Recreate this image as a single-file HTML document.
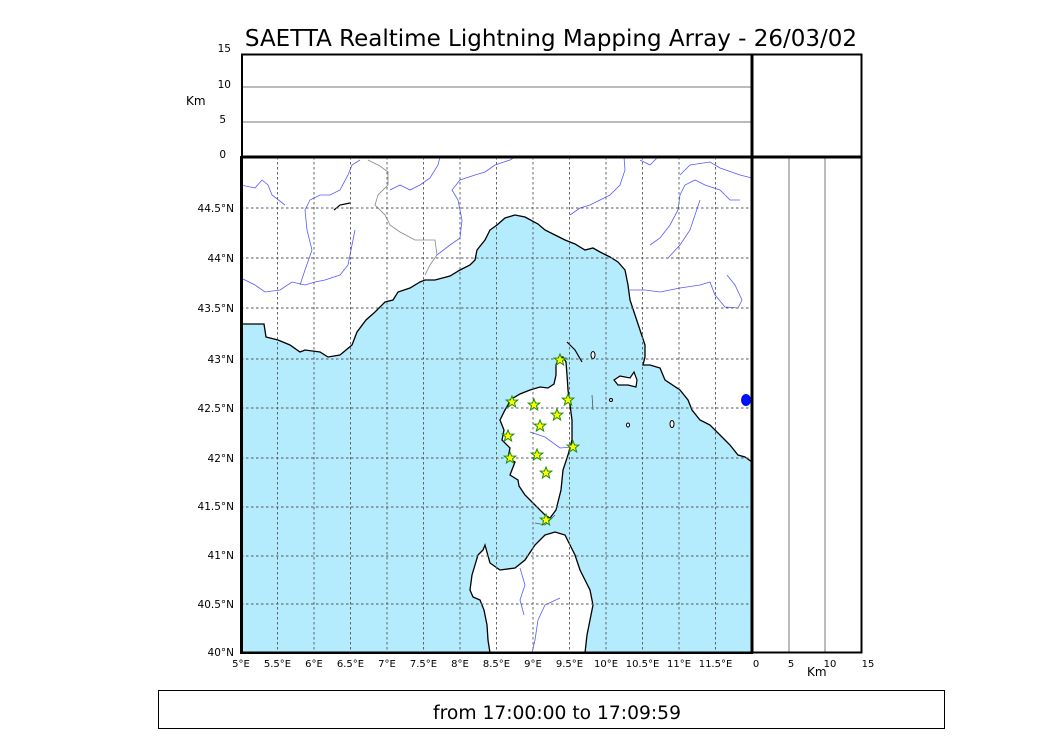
<!DOCTYPE html>
<html><head><style>
body{margin:0;background:#fff;width:1050px;height:750px;overflow:hidden;font-family:"DejaVu Sans",sans-serif}
</style></head><body>
<svg width="1050" height="750" viewBox="0 0 1050 750" xmlns="http://www.w3.org/2000/svg" font-family="DejaVu Sans, sans-serif">
<text x="551" y="46" font-size="23" text-anchor="middle">SAETTA Realtime Lightning Mapping Array - 26/03/02</text>
<rect x="241" y="157" width="511" height="496" fill="#b5ecfd"/>
<polygon fill="#fff" stroke="#000" stroke-width="1.3" points="241,324 264,324 266,337 278,340 290,345 300,352 305,350 320,352 328,357 340,355 352,345 357,332 366,320 375,312 385,302 393,300 398,292 410,288 420,282 425,280 435,280 450,276 460,270 470,265 475,260 477,250 485,240 490,230 497,225 505,218 515,215 525,217 538,224 545,230 555,235 565,240 575,244 585,250 593,248 600,252 610,257 618,262 625,270 628,285 630,300 635,315 640,330 645,345 645,357 643,365 650,365 660,368 665,380 680,390 688,400 692,410 700,420 710,425 720,435 730,445 738,455 745,457 752,462 752,157 241,157"/>
<polygon fill="#fff" stroke="#000" stroke-width="1.3" points="559,357 563,357 566,362 567,375 568,390 570,405 572,420 572,440 568,455 563,470 561,490 556,510 550,518 545,515 535,505 525,495 519,486 518,480 510,475 515,462 508,458 510,448 502,440 504,430 500,420 505,410 508,405 510,400 520,394 530,390 540,387 548,388 554,384 556,375 556,365"/>
<polygon fill="#fff" stroke="#000" stroke-width="1.3" points="545,535 555,532 565,535 570,545 575,555 580,570 585,580 590,590 593,605 590,620 587,635 585,653 490,653 488,640 487,625 484,610 480,600 473,597 470,590 472,575 475,565 478,555 483,550 485,545 490,563 500,570 515,568 525,560 535,545"/>
<polygon fill="#fff" stroke="#000" stroke-width="1.2" points="614,380 620,376 630,378 634,372 637,380 636,387 628,385 618,385"/>
<ellipse cx="593" cy="355" rx="2" ry="3.5" fill="#fff" stroke="#000"/>
<ellipse cx="672" cy="424" rx="2" ry="3.5" fill="#fff" stroke="#000"/>
<ellipse cx="628" cy="425" rx="1.5" ry="2" fill="#fff" stroke="#000"/>
<ellipse cx="611" cy="400" rx="1.5" ry="1.5" fill="#fff" stroke="#000"/>
<g fill="none" stroke="#5a5aff" stroke-width="0.8">
<polyline points="241,185 255,188 262,180 268,185 272,195 285,205"/>
<polyline points="241,278 255,285 265,292 280,290 292,282 305,285 315,282 325,280 340,275 348,265 351,250 355,230"/>
<polyline points="305,210 310,200 320,195 330,195 340,190 348,175 352,165 360,160"/>
<polyline points="305,210 307,230 312,250 305,270 300,285"/>
<polyline points="390,190 400,185 410,190 420,185 430,178 438,165 440,157"/>
<polyline points="437,255 450,245 460,238 462,220 458,200 452,190 460,180 475,175 485,172 495,165 510,160 515,157"/>
<polyline points="570,215 580,208 590,205 600,200 610,195 620,185 625,170 624,157"/>
<polyline points="650,245 660,238 670,225 678,210 680,195 685,185 695,180 705,185 720,190 730,200 740,200"/>
<polyline points="668,258 680,245 690,230 695,215 700,200"/>
<polyline points="630,290 645,290 660,292 680,288 700,285 710,282 715,295 725,307 738,308 742,300 735,285 727,275"/>
<polyline points="680,175 690,165 710,162 720,168 740,175 752,178"/>
<polyline points="640,160 650,165 657,158"/>
<polyline points="530,432 545,437 560,448 573,447"/>
<polyline points="520,568 525,585 520,600 524,615"/>
<polyline points="560,598 545,605 538,620 535,640 532,653"/>
</g>
<g fill="none" stroke="#888" stroke-width="0.8">
<polyline points="368,160 380,166 388,172 388,185 378,195 375,205 385,215 390,225 400,232 415,240 425,240 435,240 437,255 430,265 425,275"/>
</g>
<path d="M334,210 L340,205 L350,203 M567,342 L575,350 L582,362" stroke="#000" fill="none" stroke-width="1.2"/>
<path d="M592,395 L593,410 M555,515 L545,525 L535,523" stroke="#555" fill="none" stroke-width="0.8"/>
<ellipse cx="746" cy="400" rx="5" ry="6" fill="#0010ff"/>
<g stroke="#555" stroke-width="0.9" stroke-dasharray="2.5,2.5">
<line x1="277.5" y1="157" x2="277.5" y2="653"/><line x1="314" y1="157" x2="314" y2="653"/><line x1="350.5" y1="157" x2="350.5" y2="653"/><line x1="387" y1="157" x2="387" y2="653"/><line x1="423.5" y1="157" x2="423.5" y2="653"/><line x1="460" y1="157" x2="460" y2="653"/><line x1="496.5" y1="157" x2="496.5" y2="653"/><line x1="533" y1="157" x2="533" y2="653"/><line x1="569.5" y1="157" x2="569.5" y2="653"/><line x1="606" y1="157" x2="606" y2="653"/><line x1="642.5" y1="157" x2="642.5" y2="653"/><line x1="679" y1="157" x2="679" y2="653"/><line x1="715.5" y1="157" x2="715.5" y2="653"/>
<line x1="241" y1="208" x2="752" y2="208"/><line x1="241" y1="258" x2="752" y2="258"/><line x1="241" y1="308" x2="752" y2="308"/><line x1="241" y1="359" x2="752" y2="359"/><line x1="241" y1="408" x2="752" y2="408"/><line x1="241" y1="458" x2="752" y2="458"/><line x1="241" y1="507" x2="752" y2="507"/><line x1="241" y1="556" x2="752" y2="556"/><line x1="241" y1="604" x2="752" y2="604"/>
</g>
<defs><polygon id="st" points="0,-6 1.6,-2 5.8,-1.9 2.5,0.8 3.6,5 0,2.5 -3.6,5 -2.5,0.8 -5.8,-1.9 -1.6,-2" fill="#ffff00" stroke="#1a8a00" stroke-width="1"/></defs>
<use href="#st" x="560" y="360"/><use href="#st" x="512" y="402"/><use href="#st" x="534" y="405"/><use href="#st" x="568" y="400"/><use href="#st" x="557" y="415"/><use href="#st" x="540" y="426"/><use href="#st" x="508" y="436"/><use href="#st" x="573" y="447"/><use href="#st" x="510" y="458"/><use href="#st" x="537" y="455"/><use href="#st" x="546" y="473"/><use href="#st" x="546" y="520"/>
<rect x="241" y="157" width="511" height="496" fill="none" stroke="#000" stroke-width="2"/>
<line x1="241" y1="87" x2="752" y2="87" stroke="#777" stroke-width="1"/>
<line x1="241" y1="122" x2="752" y2="122" stroke="#777" stroke-width="1"/>
<line x1="789" y1="157" x2="789" y2="653" stroke="#777" stroke-width="1"/>
<line x1="825" y1="157" x2="825" y2="653" stroke="#777" stroke-width="1"/>
<rect x="242" y="54.5" width="619.5" height="598" fill="none" stroke="#000" stroke-width="2"/>
<line x1="241" y1="157" x2="862" y2="157" stroke="#000" stroke-width="3"/>
<line x1="752" y1="54" x2="752" y2="653" stroke="#000" stroke-width="3"/>
<g font-size="10.5" text-anchor="end">
<text x="231" y="52">15</text><text x="231" y="88">10</text><text x="226" y="123">5</text><text x="226" y="158">0</text>
<text x="234" y="212">44.5°N</text><text x="234" y="262">44°N</text><text x="234" y="312">43.5°N</text><text x="234" y="363">43°N</text><text x="234" y="412">42.5°N</text><text x="234" y="462">42°N</text><text x="234" y="510">41.5°N</text><text x="234" y="559">41°N</text><text x="234" y="608">40.5°N</text><text x="234" y="656">40°N</text>
</g>
<text x="186" y="105" font-size="12">Km</text>
<g font-size="10" text-anchor="middle">
<text x="241" y="667">5°E</text><text x="277.5" y="667">5.5°E</text><text x="314" y="667">6°E</text><text x="350.5" y="667">6.5°E</text><text x="387" y="667">7°E</text><text x="423.5" y="667">7.5°E</text><text x="460" y="667">8°E</text><text x="496.5" y="667">8.5°E</text><text x="533" y="667">9°E</text><text x="569.5" y="667">9.5°E</text><text x="606" y="667">10°E</text><text x="642.5" y="667">10.5°E</text><text x="679" y="667">11°E</text><text x="715.5" y="667">11.5°E</text>
<text x="756" y="667">0</text><text x="791" y="667">5</text><text x="830" y="667">10</text><text x="868" y="667">15</text>
</g>
<text x="807" y="676" font-size="12">Km</text>
<rect x="158.5" y="690.5" width="786" height="38" fill="none" stroke="#000" stroke-width="1"/>
<text x="557" y="719" font-size="18.7" text-anchor="middle">from 17:00:00 to 17:09:59</text>
</svg>
</body></html>
